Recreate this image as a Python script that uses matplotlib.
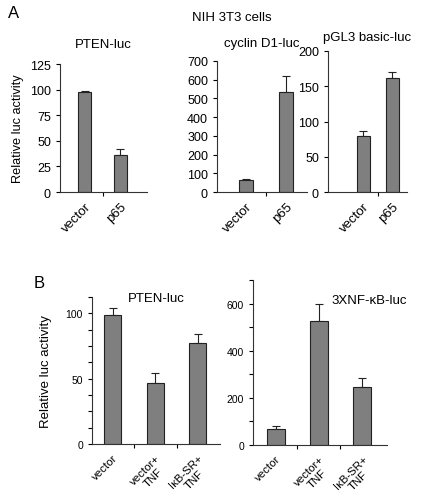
import matplotlib.pyplot as plt
import numpy as np

plt.rcParams["font.family"] = ["Liberation Sans", "DejaVu Sans"]

# panel A: NIH 3T3 cells
a_cats = ["vector", "p65"]
pten_a = [98, 36]
pten_a_err = [1, 6]
cyclin_a = [65, 535]
cyclin_a_err = [4, 87]
pgl3_a = [80, 162]
pgl3_a_err = [7, 8]

# panel B
b_cats = ["vector", "vector+\nTNF", "I\u03baB-SR+\nTNF"]
pten_b = [99, 47, 77]
pten_b_err = [5, 7, 7]
nfkb_b = [70, 525, 248]
nfkb_b_err = [12, 75, 35]

W, H = 431, 502
fig = plt.figure(figsize=(W / 100, H / 100), dpi=100)


def add_ax(x0, x1, y_top, y_bot):
    return fig.add_axes([x0 / W, 1 - y_bot / H, (x1 - x0) / W, (y_bot - y_top) / H])


def bar_panel(ax, cats, vals, errs, width, xlim, ylim, yticks, yminor, labsize, ticksize):
    x = np.arange(len(cats))
    ax.bar(x, vals, width=width, color="#7f7f7f", edgecolor="#222222", linewidth=0.8, zorder=2)
    ax.errorbar(x, vals, yerr=[np.zeros(len(vals)), errs], fmt="none",
                ecolor="#222222", elinewidth=0.8, capsize=3, capthick=0.8, zorder=1)
    ax.set_xlim(*xlim)
    ax.set_ylim(*ylim)
    ax.spines["top"].set_visible(False)
    ax.spines["right"].set_visible(False)
    for s in ["left", "bottom"]:
        ax.spines[s].set_linewidth(0.8)
        ax.spines[s].set_color("#333333")
    ax.set_xticks(x)
    ax.set_xticklabels(cats, rotation=45, ha="right", rotation_mode="anchor",
                       multialignment="center", fontsize=labsize)
    ax.set_xticks(np.arange(len(cats) - 1) + 0.5, minor=True)
    ax.tick_params(axis="x", which="major", length=0, pad=6)
    ax.tick_params(axis="x", which="minor", length=3, direction="out", width=0.8)
    ax.set_yticks(yticks)
    if yminor is not None:
        ax.set_yticks(yminor, minor=True)
    ax.tick_params(axis="y", which="both", length=3, direction="out", width=0.8,
                   labelsize=ticksize)


ax1 = add_ax(60, 147, 65, 193)
bar_panel(ax1, a_cats, pten_a, pten_a_err, 0.37, (-0.7, 1.75), (0, 125),
          [0, 25, 50, 75, 100, 125], None, 9.5, 9)
ax1.set_ylabel("Relative luc activity", fontsize=9.2, labelpad=4)
ax1.set_title("PTEN-luc", fontsize=9.5, pad=12)

ax2 = add_ax(217, 307, 62, 193)
bar_panel(ax2, a_cats, cyclin_a, cyclin_a_err, 0.35, (-0.72, 1.52), (0, 700),
          np.arange(0, 701, 100), None, 9.5, 9)
ax2.set_title("cyclin D1-luc", fontsize=9.5, pad=11)

ax3 = add_ax(328, 407, 52, 193)
bar_panel(ax3, a_cats, pgl3_a, pgl3_a_err, 0.44, (-1.2, 1.5), (0, 200),
          [0, 50, 100, 150, 200], None, 9.5, 9)
ax3.set_title("pGL3 basic-luc", fontsize=9.5, pad=8)

ax4 = add_ax(92, 220, 298, 445)
bar_panel(ax4, b_cats, pten_b, pten_b_err, 0.4, (-0.49, 2.52), (0, 112.5),
          [0, 50, 100], np.arange(0, 113, 12.5), 8.2, 7.5)
ax4.set_ylabel("Relative luc activity", fontsize=9.5, labelpad=10)
ax4.text(0.5, 0.99, "PTEN-luc", transform=ax4.transAxes, fontsize=9.5, ha="center", va="center")

ax5 = add_ax(253, 387, 281, 446)
bar_panel(ax5, b_cats, nfkb_b, nfkb_b_err, 0.41, (-0.53, 2.58), (0, 700),
          [0, 200, 400, 600], np.arange(0, 701, 100), 8.2, 7.5)
ax5.text(0.87, 0.88, "3XNF-\u03baB-luc", transform=ax5.transAxes, fontsize=9.5, ha="center", va="center")

fig.text(14 / W, 1 - 14 / H, "A", fontsize=12, ha="center", va="center")
fig.text(39 / W, 1 - 283 / H, "B", fontsize=12, ha="center", va="center")
fig.text(232 / W, 1 - 18 / H, "NIH 3T3 cells", fontsize=9.5, ha="center", va="center")

fig.savefig("out.png", dpi=100)
